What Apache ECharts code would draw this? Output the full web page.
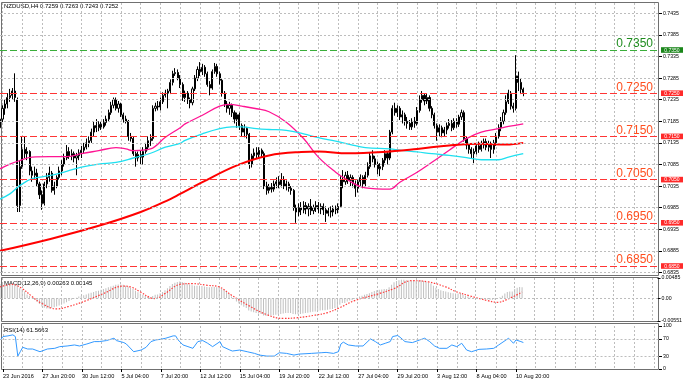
<!DOCTYPE html>
<html><head><meta charset="utf-8">
<script src="https://cdn.jsdelivr.net/npm/echarts@6/dist/echarts.min.js"></script>
<style>html,body{margin:0;padding:0;background:#fff}#c{width:685px;height:383px}</style>
</head><body><div id="c"></div>
<script>
// ---------- DATA ----------
const symbolTitle = 'NZDUSD,H4 0.7259 0.7263 0.7243 0.7252';
const macdTitle = 'MACD(12,26,9) 0.00263 0.00145';
const rsiTitle = 'RSI(14) 61.5663';
const timeLabels = ['23 Jun 2016','27 Jun 20:00','30 Jun 12:00','5 Jul 04:00','7 Jul 20:00','12 Jul 12:00','15 Jul 04:00','19 Jul 20:00','22 Jul 12:00','27 Jul 04:00','29 Jul 20:00','3 Aug 12:00','8 Aug 04:00','10 Aug 20:00'];
const priceTicks = [0.6835,0.6885,0.6935,0.6985,0.7035,0.7085,0.7135,0.7185,0.7235,0.7285,0.7335,0.7385,0.7435];
const levels = [0.7350,0.7250,0.7150,0.7050,0.6950,0.6850];
const macdTicks = [-0.00551,0,0.00485];
const rsiTicks = [0,30,70,100];
const rsiLevels = [30,70];

const opens = [
0.7170,0.7190,0.7215,0.7225,0.7240,0.7245,0.7255,0.7235,0.6990,0.7080,
0.7120,0.7110,0.7115,0.7070,0.7060,0.7065,0.7040,0.7015,0.6995,0.7040,
0.7055,0.7065,0.7025,0.7035,0.7055,0.7070,0.7085,0.7100,0.7115,0.7105,
0.7110,0.7100,0.7105,0.7112,0.7118,0.7125,0.7135,0.7140,0.7160,0.7175,
0.7170,0.7178,0.7172,0.7182,0.7190,0.7205,0.7222,0.7235,0.7215,0.7225,
0.7200,0.7190,0.7185,0.7150,0.7145,0.7110,0.7100,0.7108,0.7102,0.7115,
0.7125,0.7140,0.7145,0.7215,0.7220,0.7218,0.7230,0.7245,0.7250,0.7255,
0.7275,0.7295,0.7298,0.7285,0.7270,0.7240,0.7250,0.7235,0.7228,0.7260,
0.7285,0.7305,0.7300,0.7310,0.7295,0.7270,0.7262,0.7300,0.7312,0.7295,
0.7280,0.7250,0.7225,0.7215,0.7222,0.7205,0.7190,0.7200,0.7175,0.7160,
0.7168,0.7155,0.7085,0.7105,0.7112,0.7108,0.7118,0.7110,0.7035,0.7025,
0.7032,0.7028,0.7040,0.7045,0.7038,0.7050,0.7035,0.7040,0.7030,0.7025,
0.6985,0.6975,0.6985,0.6980,0.6990,0.6982,0.6988,0.6978,0.6985,0.6990,
0.6982,0.6988,0.6980,0.6972,0.6978,0.6975,0.6982,0.6980,0.6988,0.7050,
0.7045,0.7060,0.7048,0.7055,0.7040,0.7030,0.7045,0.7055,0.7040,0.7060,
0.7080,0.7105,0.7098,0.7085,0.7075,0.7080,0.7095,0.7110,0.7100,0.7160,
0.7215,0.7205,0.7215,0.7195,0.7200,0.7185,0.7180,0.7172,0.7185,0.7180,
0.7210,0.7235,0.7245,0.7232,0.7240,0.7215,0.7200,0.7175,0.7160,0.7170,
0.7158,0.7165,0.7175,0.7180,0.7170,0.7185,0.7178,0.7195,0.7205,0.7145,
0.7130,0.7120,0.7110,0.7115,0.7128,0.7120,0.7130,0.7138,0.7125,0.7132,
0.7120,0.7135,0.7150,0.7170,0.7185,0.7205,0.7230,0.7250,0.7220,0.7215,
0.7290,0.7275,0.7259];
const closes = [
0.7190,0.7215,0.7225,0.7240,0.7245,0.7255,0.7240,0.6990,0.7080,0.7120,
0.7110,0.7115,0.7070,0.7060,0.7065,0.7040,0.7015,0.6995,0.7040,0.7055,
0.7065,0.7025,0.7035,0.7055,0.7070,0.7085,0.7100,0.7115,0.7105,0.7110,
0.7100,0.7105,0.7112,0.7118,0.7125,0.7135,0.7140,0.7160,0.7175,0.7170,
0.7178,0.7172,0.7182,0.7190,0.7205,0.7222,0.7235,0.7215,0.7225,0.7200,
0.7190,0.7185,0.7150,0.7145,0.7110,0.7100,0.7108,0.7102,0.7115,0.7125,
0.7140,0.7145,0.7215,0.7220,0.7218,0.7230,0.7245,0.7250,0.7255,0.7275,
0.7295,0.7298,0.7285,0.7270,0.7240,0.7250,0.7235,0.7228,0.7260,0.7285,
0.7305,0.7300,0.7310,0.7295,0.7270,0.7262,0.7300,0.7312,0.7295,0.7280,
0.7250,0.7225,0.7215,0.7222,0.7205,0.7190,0.7200,0.7175,0.7160,0.7168,
0.7155,0.7085,0.7105,0.7112,0.7108,0.7118,0.7110,0.7035,0.7025,0.7032,
0.7028,0.7040,0.7045,0.7038,0.7050,0.7035,0.7040,0.7030,0.7025,0.6985,
0.6975,0.6985,0.6980,0.6990,0.6982,0.6988,0.6978,0.6985,0.6990,0.6982,
0.6988,0.6980,0.6972,0.6978,0.6975,0.6982,0.6980,0.6988,0.7050,0.7045,
0.7060,0.7048,0.7055,0.7040,0.7030,0.7045,0.7055,0.7040,0.7060,0.7080,
0.7105,0.7098,0.7085,0.7075,0.7080,0.7095,0.7110,0.7100,0.7160,0.7215,
0.7205,0.7215,0.7195,0.7200,0.7185,0.7180,0.7172,0.7185,0.7180,0.7210,
0.7235,0.7245,0.7232,0.7240,0.7215,0.7200,0.7175,0.7160,0.7170,0.7158,
0.7165,0.7175,0.7180,0.7170,0.7185,0.7178,0.7195,0.7205,0.7145,0.7130,
0.7120,0.7110,0.7115,0.7128,0.7120,0.7130,0.7138,0.7125,0.7132,0.7120,
0.7135,0.7150,0.7170,0.7185,0.7205,0.7230,0.7250,0.7220,0.7215,0.7290,
0.7275,0.7259,0.7252];
const lows = [
0.7160,0.7183,0.7200,0.7215,0.7230,0.7235,0.7230,0.6975,0.6975,0.7075,
0.7100,0.7095,0.7060,0.7045,0.7050,0.7035,0.7005,0.6980,0.6990,0.7030,
0.7045,0.7020,0.7015,0.7030,0.7050,0.7060,0.7080,0.7095,0.7098,0.7095,
0.7090,0.7060,0.7095,0.7100,0.7110,0.7120,0.7125,0.7135,0.7150,0.7160,
0.7162,0.7165,0.7168,0.7175,0.7185,0.7200,0.7215,0.7210,0.7205,0.7195,
0.7182,0.7180,0.7140,0.7138,0.7105,0.7080,0.7092,0.7085,0.7085,0.7110,
0.7118,0.7128,0.7140,0.7208,0.7210,0.7210,0.7225,0.7240,0.7215,0.7248,
0.7268,0.7290,0.7280,0.7262,0.7232,0.7230,0.7225,0.7215,0.7222,0.7255,
0.7278,0.7290,0.7292,0.7288,0.7265,0.7245,0.7258,0.7295,0.7288,0.7270,
0.7242,0.7218,0.7205,0.7200,0.7195,0.7180,0.7170,0.7165,0.7150,0.7148,
0.7145,0.7075,0.7078,0.7095,0.7098,0.7100,0.7102,0.7028,0.7015,0.7018,
0.7020,0.7022,0.7030,0.7030,0.7032,0.7028,0.7025,0.7022,0.7015,0.6978,
0.6950,0.6965,0.6968,0.6972,0.6970,0.6965,0.6968,0.6970,0.6975,0.6972,
0.6970,0.6968,0.6952,0.6965,0.6962,0.6965,0.6970,0.6972,0.6985,0.7030,
0.7038,0.7040,0.7035,0.7032,0.7010,0.7020,0.7035,0.7030,0.7035,0.7055,
0.7075,0.7090,0.7078,0.7062,0.7058,0.7072,0.7088,0.7085,0.7095,0.7155,
0.7198,0.7195,0.7188,0.7180,0.7175,0.7168,0.7165,0.7165,0.7170,0.7175,
0.7205,0.7228,0.7222,0.7225,0.7208,0.7192,0.7168,0.7140,0.7150,0.7148,
0.7150,0.7155,0.7168,0.7162,0.7165,0.7170,0.7172,0.7188,0.7138,0.7120,
0.7110,0.7098,0.7088,0.7108,0.7112,0.7115,0.7122,0.7118,0.7115,0.7100,
0.7110,0.7128,0.7145,0.7162,0.7178,0.7200,0.7225,0.7212,0.7205,0.7210,
0.7255,0.7248,0.7243];
const highs = [
0.7200,0.7222,0.7235,0.7250,0.7260,0.7262,0.7296,0.7240,0.7095,0.7150,
0.7150,0.7125,0.7118,0.7080,0.7080,0.7075,0.7045,0.7025,0.7045,0.7065,
0.7080,0.7070,0.7045,0.7060,0.7080,0.7095,0.7110,0.7130,0.7125,0.7120,
0.7115,0.7112,0.7120,0.7128,0.7135,0.7145,0.7150,0.7168,0.7185,0.7190,
0.7185,0.7185,0.7190,0.7198,0.7212,0.7230,0.7240,0.7240,0.7232,0.7228,
0.7205,0.7198,0.7188,0.7158,0.7150,0.7115,0.7115,0.7118,0.7125,0.7135,
0.7150,0.7155,0.7222,0.7228,0.7232,0.7240,0.7252,0.7258,0.7260,0.7282,
0.7302,0.7308,0.7305,0.7292,0.7275,0.7256,0.7255,0.7240,0.7265,0.7292,
0.7312,0.7322,0.7318,0.7315,0.7300,0.7278,0.7305,0.7320,0.7318,0.7300,
0.7285,0.7255,0.7232,0.7230,0.7226,0.7210,0.7205,0.7205,0.7180,0.7178,
0.7172,0.7158,0.7110,0.7122,0.7125,0.7125,0.7122,0.7115,0.7045,0.7040,
0.7042,0.7048,0.7055,0.7058,0.7065,0.7058,0.7048,0.7045,0.7035,0.7028,
0.6992,0.6995,0.6998,0.7000,0.6998,0.6995,0.7005,0.6992,0.7000,0.6998,
0.6995,0.6995,0.6988,0.6985,0.6988,0.6990,0.6990,0.6995,0.7058,0.7072,
0.7068,0.7070,0.7062,0.7060,0.7048,0.7050,0.7062,0.7060,0.7068,0.7090,
0.7112,0.7118,0.7105,0.7092,0.7088,0.7100,0.7118,0.7115,0.7165,0.7222,
0.7228,0.7222,0.7220,0.7210,0.7205,0.7195,0.7188,0.7192,0.7195,0.7218,
0.7245,0.7255,0.7250,0.7248,0.7245,0.7220,0.7205,0.7180,0.7178,0.7175,
0.7172,0.7182,0.7190,0.7188,0.7192,0.7192,0.7200,0.7212,0.7210,0.7150,
0.7135,0.7125,0.7122,0.7135,0.7138,0.7140,0.7145,0.7145,0.7140,0.7138,
0.7142,0.7158,0.7178,0.7195,0.7212,0.7245,0.7258,0.7255,0.7228,0.7338,
0.7300,0.7285,0.7263];

// moving averages read at bar positions [bar, value]
const maPink = [[0,0.7075],[4,0.7086],[8,0.7094],[13,0.7102],[20,0.7103],[27,0.7103],[33,0.7110],[40,0.7117],[47,0.7124],[51,0.7121],[54,0.7117],[61,0.7121],[67,0.7148],[73,0.7170],[75,0.7179],[82,0.7199],[89,0.7220],[93,0.7224],[98,0.7220],[104,0.7214],[109,0.7207],[116,0.7183],[123,0.7145],[129,0.7102],[136,0.7067],[140,0.7052],[148,0.7031],[158,0.7028],[162,0.7044],[169,0.7067],[175,0.7090],[182,0.7118],[189,0.7145],[195,0.7160],[202,0.7168],[206,0.7173],[212,0.7179]];
const maCyan = [[0,0.7005],[4,0.7017],[8,0.7036],[13,0.7052],[20,0.7059],[27,0.7069],[33,0.7079],[40,0.7086],[47,0.7090],[54,0.7100],[61,0.7111],[67,0.7125],[73,0.7134],[75,0.7141],[82,0.7156],[89,0.7168],[94,0.7172],[98,0.7172],[104,0.7168],[109,0.7166],[116,0.7164],[123,0.7156],[129,0.7147],[136,0.7139],[142,0.7131],[148,0.7124],[158,0.7121],[162,0.7118],[169,0.7114],[175,0.7110],[182,0.7106],[189,0.7101],[195,0.7096],[202,0.7096],[206,0.7102],[212,0.7110]];
const maRed = [[0,0.6885],[20,0.6912],[40,0.6943],[57,0.6975],[69,0.7005],[73,0.7017],[82,0.7044],[96,0.7083],[109,0.7106],[122,0.7114],[129,0.7115],[141,0.7111],[155,0.7114],[169,0.7121],[182,0.7129],[195,0.7133],[205,0.7131],[212,0.7135]];

const macdMain = [
0.0034,0.0035,0.0035,0.0036,0.0036,0.0036,0.0035,0.0031,0.0024,0.0021,
0.0016,0.0009,0.0005,0.0001,-0.0004,-0.0009,-0.0014,-0.0020,-0.0023,-0.0025,
-0.0025,-0.0023,-0.0022,-0.0020,-0.0018,-0.0016,-0.0013,-0.0010,-0.0007,-0.0004,
-0.0002,0.0001,0.0004,0.0006,0.0007,0.0009,0.0011,0.0013,0.0015,0.0017,
0.0018,0.0020,0.0022,0.0024,0.0026,0.0028,0.0030,0.0032,0.0033,0.0033,
0.0032,0.0030,0.0028,0.0025,0.0022,0.0018,0.0014,0.0011,0.0008,0.0005,
0.0003,0.0003,0.0005,0.0008,0.0009,0.0012,0.0015,0.0019,0.0024,0.0029,
0.0034,0.0037,0.0039,0.0040,0.0039,0.0037,0.0035,0.0033,0.0031,0.0030,
0.0030,0.0030,0.0029,0.0028,0.0027,0.0026,0.0027,0.0027,0.0026,0.0025,
0.0023,0.0020,0.0015,0.0010,0.0004,-0.0002,-0.0008,-0.0013,-0.0017,-0.0021,
-0.0024,-0.0030,-0.0032,-0.0034,-0.0036,-0.0037,-0.0038,-0.0042,-0.0043,-0.0043,
-0.0042,-0.0041,-0.0040,-0.0039,-0.0038,-0.0037,-0.0036,-0.0036,-0.0036,-0.0038,
-0.0039,-0.0039,-0.0038,-0.0037,-0.0036,-0.0035,-0.0034,-0.0033,-0.0032,-0.0031,
-0.0030,-0.0029,-0.0029,-0.0028,-0.0027,-0.0026,-0.0024,-0.0022,-0.0016,-0.0012,
-0.0012,-0.0008,-0.0006,-0.0005,-0.0002,0.0001,0.0004,0.0006,0.0008,0.0010,
0.0012,0.0015,0.0017,0.0019,0.0020,0.0021,0.0022,0.0022,0.0026,0.0032,
0.0038,0.0041,0.0043,0.0044,0.0044,0.0043,0.0042,0.0042,0.0041,0.0042,
0.0043,0.0043,0.0041,0.0039,0.0037,0.0035,0.0030,0.0025,0.0022,0.0019,
0.0017,0.0016,0.0014,0.0013,0.0012,0.0011,0.0011,0.0012,0.0008,0.0006,
0.0004,0.0002,0.0001,0.0000,-0.0001,-0.0001,-0.0002,-0.0003,-0.0003,-0.0004,
-0.0004,-0.0003,-0.0001,0.0002,0.0006,0.0011,0.0015,0.0016,0.0016,0.0022,
0.0025,0.0027,0.00263];
const macdSignal = [[0,0.0027],[5,0.0033],[9,0.0023],[13,0.0004],[17,-0.0013],[23,-0.0026],[28,-0.0020],[35,-0.0006],[42,0.0011],[50,0.0029],[53,0.0027],[57,0.0015],[61,0.0001],[63,-0.0001],[67,0.0011],[73,0.0033],[78,0.0035],[84,0.0031],[89,0.0027],[94,0.0007],[101,-0.0018],[108,-0.0039],[115,-0.0049],[121,-0.0047],[128,-0.0041],[133,-0.0035],[138,-0.0023],[144,-0.0006],[154,0.0011],[160,0.0023],[167,0.0042],[174,0.0039],[181,0.0027],[185,0.0016],[191,0.0005],[198,-0.0006],[202,-0.0010],[206,-0.0003],[212,0.00145]];
const rsi = [[0,67.6],[1,75.5],[3,77.0],[5,79.4],[6,75.5],[7,30.0],[8,40.2],[9,50.4],[11,46.5],[13,46.5],[16,40.2],[19,46.5],[22,48.1],[24,52.0],[27,53.5],[30,55.9],[32,53.5],[35,58.2],[38,63.7],[40,63.7],[43,66.1],[46,71.6],[47,66.1],[50,61.4],[51,58.2],[54,40.2],[57,44.1],[59,50.4],[61,63.7],[63,67.6],[65,69.2],[67,71.6],[70,77.0],[71,77.0],[72,67.6],[74,55.9],[76,52.0],[78,48.1],[80,63.7],[82,66.1],[84,59.8],[86,52.0],[89,63.7],[90,52.0],[93,44.1],[94,41.8],[97,44.1],[100,40.2],[103,36.3],[105,32.4],[108,30.0],[111,30.0],[113,37.8],[116,36.3],[119,32.4],[121,34.7],[126,36.3],[130,37.8],[132,38.6],[135,36.3],[137,40.2],[138,58.0],[139,62.5],[141,55.9],[144,53.5],[147,53.5],[150,70.0],[152,63.7],[154,55.9],[156,59.8],[158,63.7],[159,75.5],[161,77.8],[162,73.9],[164,63.7],[167,61.4],[170,67.6],[172,71.6],[174,63.7],[176,53.5],[178,48.1],[181,48.1],[183,55.9],[185,52.0],[187,59.8],[189,44.1],[191,40.2],[194,45.7],[197,46.5],[200,48.1],[202,55.9],[205,67.6],[206,71.6],[208,59.8],[209,67.6],[211,63.7],[212,61.57]];

// ---------- LAYOUT ----------
const SLOTS = 268;            // chart slots incl. empty right-hand shift
const LABEL_START = 1, LABEL_STEP = 16, GRID_STEP = 8;
const slots = Array.from({length: SLOTS}, (_, i) => String(i));
const isTick = i => i >= LABEL_START && (i - LABEL_START) % LABEL_STEP === 0;
const isGrid = i => i >= LABEL_START && (i - LABEL_START) % GRID_STEP === 0;
const labelAt = i => isTick(i) ? timeLabels[(i - LABEL_START) / LABEL_STEP] : undefined;
const ohlc = opens.map((o, i) => [o, closes[i], lows[i], highs[i]]);

const FONT = 'Liberation Sans';
const GRID_L = -0.2, GRID_W = 659.2;
const PPU = 4320, REF_Y = 50, REF_P = 0.7350;
const Y_MIN = REF_P - (275 - REF_Y) / PPU;
const Y_MAX = REF_P + (REF_Y - 3) / PPU;
const GREEN_TXT = '#1e8c1e', GREEN_LINE = '#3aae3a', GREEN_BOX = '#1a861a';
const RED_TXT = '#ff4f1f', RED_LINE = '#ff3535', RED_BOX = '#ff2a2a';
const dotted = {type: [2, 2], color: '#bdbdbd', width: 1};

function xAx(gi, showLabels) {
  return {
    type: 'category', gridIndex: gi, data: slots, boundaryGap: false,
    axisLine: {show: false},
    axisTick: {show: showLabels, interval: (i) => labelAt(i) !== undefined, length: 3, lineStyle: {color: '#000'}},
    axisLabel: {show: showLabels, interval: (i) => labelAt(i) !== undefined,
      formatter: (v, i) => labelAt(i) || '', align: 'left', fontSize: 5.6, color: '#000', margin: 4, fontFamily: FONT},
    splitLine: {show: true, interval: (i) => isGrid(i), lineStyle: dotted}
  };
}

const gridLines = priceTicks.map(v => ({yAxis: v, lineStyle: dotted, label: {show: false}}));
const levelLines = levels.map((v, k) => ({
  yAxis: v,
  lineStyle: {type: [7, 3], color: k === 0 ? GREEN_LINE : RED_LINE, width: 1},
  label: {show: true, position: 'insideEndTop', distance: [6, 0], formatter: () => v.toFixed(4),
    color: k === 0 ? GREEN_TXT : RED_TXT, fontSize: 12, fontFamily: FONT}
}));

const baseGraphic = [
  {type: 'rect', silent: true, shape: {x: 1.5, y: 2.5, width: 657, height: 273}, style: {fill: 'none', stroke: '#707070', lineWidth: 1}},
  {type: 'rect', silent: true, shape: {x: 1.5, y: 277.5, width: 657, height: 44}, style: {fill: 'none', stroke: '#707070', lineWidth: 1}},
  {type: 'rect', silent: true, shape: {x: 1.5, y: 323.5, width: 657, height: 46}, style: {fill: 'none', stroke: '#707070', lineWidth: 1}},
  {type: 'text', left: 4, top: 3, style: {text: symbolTitle, font: '6px "Liberation Sans"', fill: '#000'}},
  {type: 'text', left: 4, top: 280, style: {text: macdTitle, font: '6px "Liberation Sans"', fill: '#000'}},
  {type: 'text', left: 4, top: 327, style: {text: rsiTitle, font: '6px "Liberation Sans"', fill: '#000'}}
];

const option = {
  animation: false,
  backgroundColor: '#ffffff',
  grid: [
    {left: GRID_L, width: GRID_W, top: 3, height: 272},
    {left: GRID_L, width: GRID_W, top: 278, height: 43},
    {left: GRID_L, width: GRID_W, top: 326, height: 43}
  ],
  xAxis: [xAx(0, false), xAx(1, false), xAx(2, true)],
  yAxis: [
    {type: 'value', gridIndex: 0, position: 'right', min: Y_MIN, max: Y_MAX,
     axisLine: {show: false}, splitLine: {show: false},
     axisTick: {show: true, customValues: priceTicks, length: 3, lineStyle: {color: '#000'}},
     axisLabel: {customValues: priceTicks, formatter: v => v.toFixed(4), fontSize: 5.2, color: '#000', margin: 4, fontFamily: FONT}},
    {type: 'value', gridIndex: 1, position: 'right', min: macdTicks[0], max: macdTicks[2],
     axisLine: {show: false}, splitLine: {show: false},
     axisTick: {show: true, customValues: macdTicks, length: 3, lineStyle: {color: '#000'}},
     axisLabel: {customValues: macdTicks, formatter: v => v === 0 ? '0.00' : v.toFixed(5), fontSize: 5.2, color: '#000', margin: 4, fontFamily: FONT}},
    {type: 'value', gridIndex: 2, position: 'right', min: 0, max: 100,
     axisLine: {show: false}, splitLine: {show: false},
     axisTick: {show: true, customValues: rsiTicks, length: 3, lineStyle: {color: '#000'}},
     axisLabel: {customValues: rsiTicks, formatter: v => String(v), fontSize: 5.2, color: '#000', margin: 4, fontFamily: FONT}}
  ],
  series: [
    {type: 'candlestick', name: 'NZDUSD', xAxisIndex: 0, yAxisIndex: 0, data: ohlc, barWidth: 1.6,
     itemStyle: {color: '#ffffff', color0: '#000000', borderColor: '#000000', borderColor0: '#000000', borderWidth: 1},
     markLine: {silent: true, symbol: 'none', animation: false, precision: 6, data: gridLines.concat(levelLines)}},
    {type: 'line', name: 'MA pink', xAxisIndex: 0, yAxisIndex: 0, data: maPink, showSymbol: false, smooth: 0.4,
     lineStyle: {color: '#ff1493', width: 1.3}},
    {type: 'line', name: 'MA cyan', xAxisIndex: 0, yAxisIndex: 0, data: maCyan, showSymbol: false, smooth: 0.4,
     lineStyle: {color: '#1fe0f0', width: 1.3}},
    {type: 'line', name: 'MA red', xAxisIndex: 0, yAxisIndex: 0, data: maRed, showSymbol: false, smooth: 0.4,
     lineStyle: {color: '#ff0000', width: 2}},
    {type: 'bar', name: 'MACD', xAxisIndex: 1, yAxisIndex: 1, data: macdMain, barWidth: 1,
     itemStyle: {color: '#c0c0c0'},
     markLine: {silent: true, symbol: 'none', animation: false, precision: 6, label: {show: false}, data: [{yAxis: 0, lineStyle: dotted}]}},
    {type: 'line', name: 'Signal', xAxisIndex: 1, yAxisIndex: 1, data: macdSignal, showSymbol: false, smooth: 0.4,
     lineStyle: {color: '#ff3b3b', width: 1.2, type: [1.5, 1.5]}},
    {type: 'line', name: 'RSI', xAxisIndex: 2, yAxisIndex: 2, data: rsi, showSymbol: false,
     lineStyle: {color: '#3399ff', width: 1},
     markLine: {silent: true, symbol: 'none', animation: false, precision: 6, label: {show: false},
       data: rsiLevels.map(v => ({yAxis: v, lineStyle: dotted}))}}
  ],
  graphic: baseGraphic
};
const chart = echarts.init(document.getElementById('c'));
chart.setOption(option);

// price boxes on the right-hand scale, placed through the chart's own y scale
const boxes = [];
levels.forEach((v, k) => {
  const py = chart.convertToPixel({yAxisIndex: 0}, v);
  boxes.push({type: 'rect', silent: true, shape: {x: 661, y: py - 2.8, width: 22, height: 5.6},
    style: {fill: k === 0 ? GREEN_BOX : RED_BOX}, z: 10});
  boxes.push({type: 'text', silent: true, x: 672, y: py + 0.2, z: 11,
    style: {text: v.toFixed(4), fill: '#fff', font: '5px "Liberation Sans"', align: 'center', verticalAlign: 'middle'}});
});
chart.setOption({graphic: baseGraphic.concat(boxes)});
</script>
</body></html>
